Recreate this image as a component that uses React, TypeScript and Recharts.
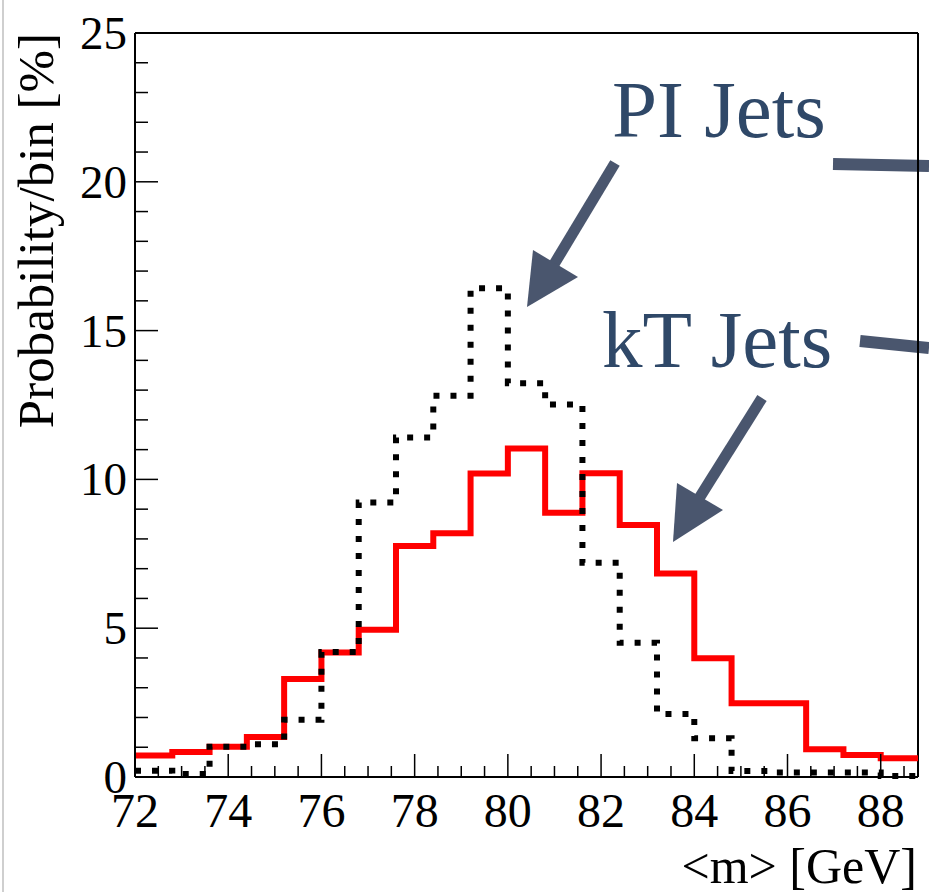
import { LineChart, Line, XAxis, YAxis, ReferenceLine } from 'recharts';

// bin edges of the histogram (GeV), 0.8 GeV wide
const binEdges = [72, 72.8, 73.6, 74.4, 75.2, 76.0, 76.8, 77.6, 78.4, 79.2, 80.0, 80.8, 81.6, 82.4, 83.2, 84.0, 84.8, 85.6, 86.4, 87.2, 88.0, 88.8];

// probability per bin [%]
const ktJets = [0.72, 0.84, 1.02, 1.34, 3.29, 4.18, 4.95, 7.76, 8.19, 10.2, 11.04, 8.88, 10.21, 8.47, 6.84, 3.99, 2.48, 2.48, 0.93, 0.74, 0.63];
const piJets = [0.21, 0.1, 1.02, 1.1, 1.92, 4.2, 9.22, 11.41, 12.81, 16.42, 13.23, 12.52, 7.2, 4.51, 2.12, 1.3, 0.2, 0.15, 0.15, 0.15, 0.03];

const xTicks = [72, 72.5, 73, 73.5, 74, 74.5, 75, 75.5, 76, 76.5, 77, 77.5, 78, 78.5, 79, 79.5, 80, 80.5, 81, 81.5, 82, 82.5, 83, 83.5, 84, 84.5, 85, 85.5, 86, 86.5, 87, 87.5, 88, 88.5];
const yTicks = [0, 1, 2, 3, 4, 5, 6, 7, 8, 9, 10, 11, 12, 13, 14, 15, 16, 17, 18, 19, 20, 21, 22, 23, 24, 25];

const FONT = '"Liberation Serif", "Times New Roman", serif';
const NOTE_COLOR = '#2f4868';
const ARROW_COLOR = '#4a566e';

// last edge repeats the last bin so the step runs to the right border
const rows = binEdges.map((x, i) => ({
  x,
  kt: ktJets[Math.min(i, ktJets.length - 1)],
  pi: piJets[Math.min(i, piJets.length - 1)],
}));

const XTick = (props: any) => {
  const { x, y, payload } = props;
  const v = payload.value;
  const major = v % 2 === 0;
  return (
    <g>
      <line x1={x} x2={x} y1={y} y2={y - (major ? 23 : 11)} stroke="#000" strokeWidth={1.5} />
      {major && (
        <text x={x} y={y + 50} textAnchor="middle" fontSize={48} fontFamily={FONT} fill="#000">
          {v}
        </text>
      )}
    </g>
  );
};

const YTick = (props: any) => {
  const { x, y, payload } = props;
  const v = payload.value;
  const major = v % 5 === 0;
  return (
    <g>
      <line x1={x} x2={x + (major ? 23 : 13)} y1={y} y2={y} stroke="#000" strokeWidth={1.5} />
      {major && (
        <text x={x - 8} y={y + 16} textAnchor="end" fontSize={47} fontFamily={FONT} fill="#000">
          {v}
        </text>
      )}
    </g>
  );
};

const YTitle = () => (
  <text
    x={53}
    y={33}
    transform="rotate(-90, 53, 33)"
    textAnchor="end"
    fontSize={51}
    fontFamily={FONT}
    fill="#000"
  >
    Probability/bin [%]
  </text>
);

const XTitle = () => (
  <text x={917} y={883} textAnchor="end" fontSize={50} fontFamily={FONT} fill="#000">
    {'<m> [GeV]'}
  </text>
);

function Notes() {
  return (
    <svg width={929} height={892} style={{ position: 'absolute', left: 0, top: 0 }}>
      <line x1={3} x2={3} y1={0} y2={892} stroke="#cfcfcf" strokeWidth={2} />
      <text x={612} y={137} fontSize={81} fontFamily={FONT} fill={NOTE_COLOR}>PI Jets</text>
      <text x={602} y={367} fontSize={81} fontFamily={FONT} fill={NOTE_COLOR}>kT Jets</text>
      {/* PI arrow */}
      <line x1={615} y1={163} x2={553} y2={266} stroke={ARROW_COLOR} strokeWidth={11} />
      <polygon points="527,307 533,250 578,277" fill={ARROW_COLOR} />
      {/* kT arrow */}
      <line x1={762} y1={398} x2={698} y2={500} stroke={ARROW_COLOR} strokeWidth={11} />
      <polygon points="673,542 677,483 723,510" fill={ARROW_COLOR} />
      {/* bars running off the right edge */}
      <line x1={833} y1={164} x2={929} y2={166} stroke={ARROW_COLOR} strokeWidth={12} />
      <line x1={860} y1={341} x2={929} y2={348} stroke={ARROW_COLOR} strokeWidth={12} />
    </svg>
  );
}

export default function App() {
  return (
    <div style={{ position: 'absolute', left: 0, top: 0, width: 929, height: 892, background: '#fff' }}>
      <Notes />
      <div style={{ position: 'absolute', left: 0, top: 0 }}>
        <LineChart width={929} height={892} data={rows} margin={{ top: 33, right: 11, bottom: 0, left: 0 }}>
          <XAxis
            dataKey="x"
            type="number"
            domain={[72, 88.8]}
            ticks={xTicks}
            interval={0}
            tick={<XTick />}
            tickLine={false}
            tickSize={0}
            tickMargin={0}
            height={115}
            axisLine={{ stroke: '#000', strokeWidth: 2 }}
            label={{ content: <XTitle /> }}
          />
          <YAxis
            type="number"
            domain={[0, 25]}
            ticks={yTicks}
            interval={0}
            tick={<YTick />}
            tickLine={false}
            tickSize={0}
            tickMargin={0}
            width={135}
            axisLine={{ stroke: '#000', strokeWidth: 2 }}
            label={{ content: <YTitle /> }}
          />
          <ReferenceLine y={25} stroke="#000" strokeWidth={2} />
          <ReferenceLine x={88.8} stroke="#000" strokeWidth={2} />
          <Line
            type="stepAfter"
            dataKey="kt"
            stroke="#ff0000"
            strokeWidth={6}
            strokeLinejoin="miter"
            dot={false}
            activeDot={false}
            isAnimationActive={false}
          />
          <Line
            type="stepAfter"
            dataKey="pi"
            stroke="#000"
            strokeWidth={6}
            strokeDasharray="6 11"
            dot={false}
            activeDot={false}
            isAnimationActive={false}
          />
        </LineChart>
      </div>
    </div>
  );
}
